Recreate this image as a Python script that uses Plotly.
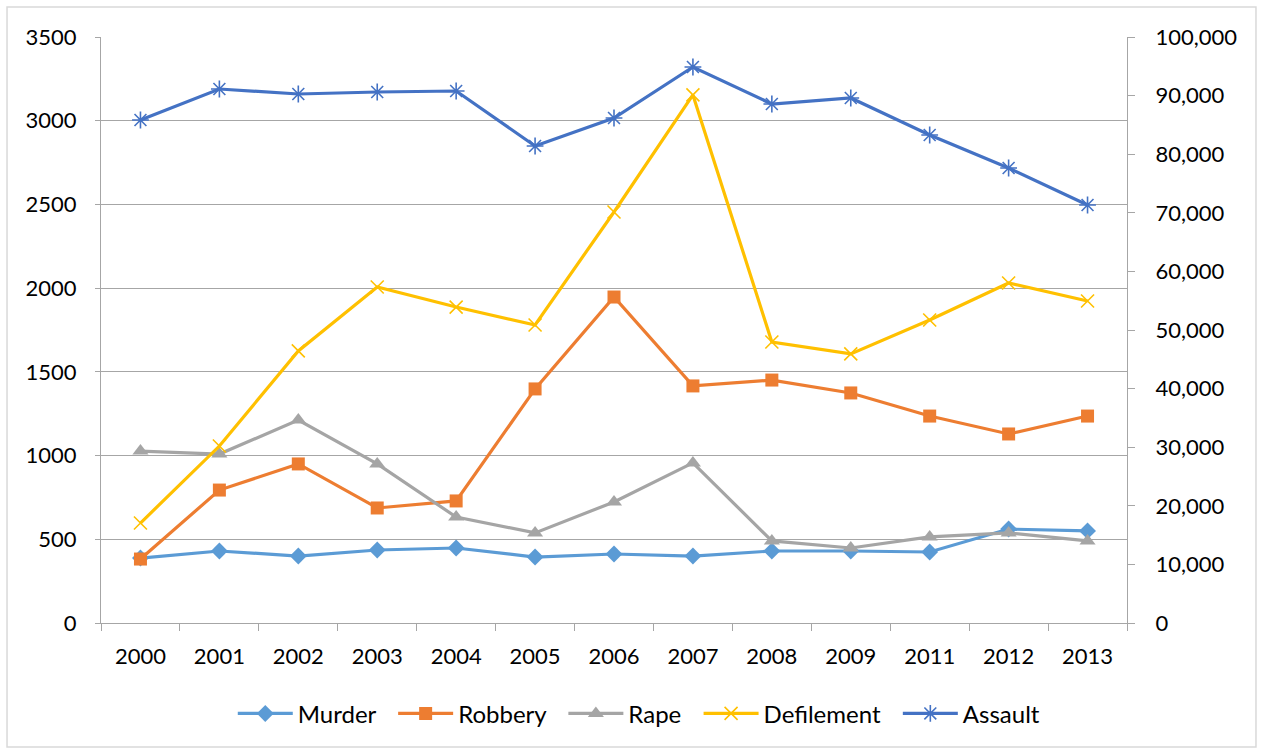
import plotly.graph_objects as go

# Reported cases per year
years = ["2000", "2001", "2002", "2003", "2004", "2005", "2006",
         "2007", "2008", "2009", "2011", "2012", "2013"]
murder = [388, 430, 400, 436, 448, 394, 412, 400, 430, 430, 424, 561, 550]
robbery = [382, 794, 950, 687, 729, 1398, 1947, 1416, 1451, 1374, 1236, 1129, 1236]
rape = [1027, 1009, 1212, 950, 633, 538, 723, 956, 490, 448, 514, 538, 490]
defilement = [597, 1057, 1625, 2007, 1887, 1780, 2455, 3154, 1678, 1607, 1810, 2031, 1923]
assault = [85836, 91126, 90273, 90614, 90785, 81399, 86177, 94880, 88567, 89590, 83276, 77645, 71331]

FONT = "Lato"
GRID = "#A6A6A6"
PAD = "\u00a0\u00a0"  # extra room after each legend label

fig = go.Figure()

def add(name, values, color, symbol, size, axis="y", open_marker=False):
    marker = dict(symbol=symbol, size=size, color=color)
    if open_marker:
        marker["line"] = dict(color=color, width=1.6)
    fig.add_trace(go.Scatter(
        x=years, y=values, name=name + PAD, mode="lines+markers",
        line=dict(color=color, width=3.2), marker=marker, yaxis=axis,
        hovertemplate=name + ": %{y:,}<extra></extra>",
    ))

add("Murder", murder, "#5B9BD5", "diamond", 13)
add("Robbery", robbery, "#ED7D31", "square", 13)
add("Rape", rape, "#A5A5A5", "triangle-up", 14)
add("Defilement", defilement, "#FFC000", "x-thin", 13, open_marker=True)
add("Assault", assault, "#4472C4", "asterisk", 14, axis="y2", open_marker=True)

fig.update_layout(
    width=1263, height=749,
    margin=dict(l=101, r=136, t=37, b=126),
    paper_bgcolor="white", plot_bgcolor="white",
    font=dict(family=FONT, size=22, color="#000000"),
    xaxis=dict(
        type="category", range=[-0.5, 12.5],
        tickson="boundaries", ticks="outside", ticklen=7, tickcolor=GRID,
        showline=True, linecolor=GRID, linewidth=1,
        showgrid=False, ticklabelstandoff=14,
    ),
    yaxis=dict(
        range=[0, 3500], dtick=500, tick0=0,
        ticks="outside", ticklen=5, tickcolor=GRID,
        showline=True, linecolor=GRID, linewidth=1,
        showgrid=True, gridcolor=GRID, gridwidth=1,
        zeroline=False, ticklabelstandoff=14,
    ),
    yaxis2=dict(
        overlaying="y", side="right",
        range=[0, 100000], dtick=10000, tick0=0, tickformat=",",
        ticks="outside", ticklen=7, tickcolor=GRID,
        showline=True, linecolor=GRID, linewidth=1,
        showgrid=False, zeroline=False, ticklabelstandoff=16,
    ),
    legend=dict(
        orientation="h", x=0.53, xanchor="center",
        y=-0.155, yanchor="middle",
        font=dict(family=FONT, size=24), itemwidth=55,
        bgcolor="rgba(0,0,0,0)",
    ),
    shapes=[dict(
        type="rect", xref="paper", yref="paper",
        x0=-0.0916, x1=1.1257, y0=-0.2116, y1=1.0512,
        line=dict(color="#D9D9D9", width=1.5), layer="below",
    )],
)

fig.write_html("out.html")
